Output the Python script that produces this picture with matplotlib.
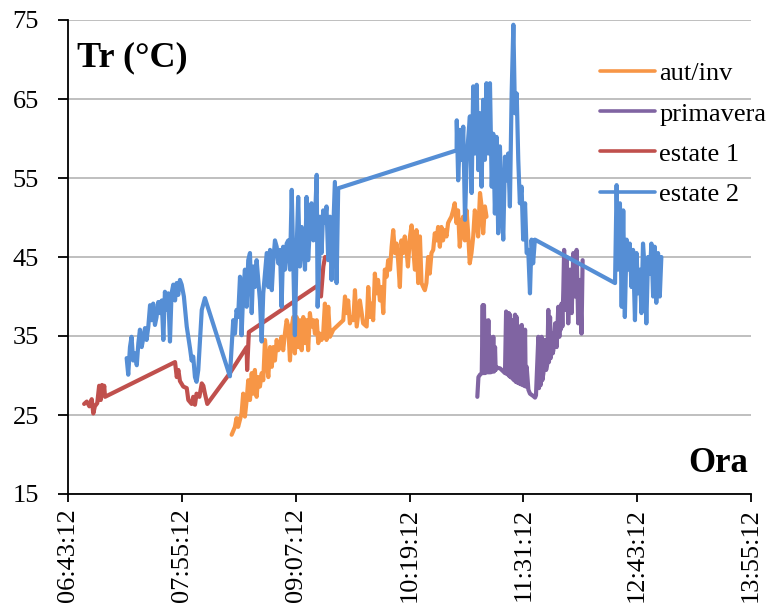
import matplotlib
matplotlib.use("Agg")
import matplotlib.pyplot as plt
from matplotlib.ticker import FixedLocator, FuncFormatter

plt.rcParams['font.family'] = ['Liberation Serif', 'DejaVu Serif']

# time in minutes since midnight, temperature Tr in °C
aut_t = [506.7, 508.8, 509.8, 510.8, 512.0, 513.0, 514.0, 515.1, 516.2, 517.2, 518.3, 519.4, 520.4, 521.4,
         522.5, 523.5, 524.6, 525.7, 526.7, 527.8, 528.8, 529.9, 531.0, 532.1, 533.1, 534.1, 535.2, 536.2,
         537.3, 538.3, 539.3, 540.4, 541.5, 542.5, 543.6, 544.7, 545.7, 546.7, 547.8, 548.8, 549.9, 551.0,
         552.0, 553.1, 554.1, 555.1, 556.2, 557.2, 558.4, 559.4, 560.5, 561.5, 562.5, 563.6, 564.6, 565.7,
         566.7, 567.8, 568.9, 571.0, 573.1, 575.2, 577.3, 578.4, 579.4, 580.4, 581.5, 582.5, 583.7, 584.7,
         585.8, 587.8, 589.9, 592.1, 593.1, 594.2, 595.2, 596.2, 597.3, 598.3, 599.3, 600.5, 601.6, 602.6,
         603.6, 604.7, 605.7, 606.9, 607.9, 608.9, 610.0, 611.0, 612.0, 613.1, 614.1, 615.2, 616.2, 617.3,
         618.2, 619.5, 620.5, 621.5, 622.6, 623.6, 624.7, 625.8, 626.8, 627.9, 628.9, 629.9, 631.0, 632.0,
         633.1, 634.2, 635.2, 636.3, 637.3, 638.4, 639.4, 640.4, 641.5, 642.6, 643.6, 644.6, 645.7, 646.8,
         647.8, 648.9, 649.9, 651.0, 652.1, 653.1, 654.2, 655.3, 656.3, 657.3, 658.4, 659.5, 660.5, 661.6,
         662.6, 663.8, 664.8, 665.8, 666.9, 667.9]
aut_v = [22.5, 23.5, 24.6, 23.5, 24.4, 25.2, 27.7, 24.8, 26.9, 29.4, 26.9, 30.3, 27.7, 30.7,
         27.3, 29.8, 28.6, 30.3, 29.4, 34.5, 31.9, 29.8, 33.6, 31.1, 33.6, 31.9, 34.5, 33.2,
         33.6, 34.9, 33.2, 35.3, 37.0, 36.2, 31.9, 36.2, 37.4, 32.8, 37.4, 33.6, 37.0, 33.2,
         37.4, 34.1, 37.0, 33.2, 37.9, 36.2, 37.0, 35.3, 37.0, 34.1, 35.3, 34.5, 35.3, 39.1,
         34.5, 38.7, 34.9, 35.8, 36.2, 36.6, 37.0, 40.0, 37.9, 39.5, 36.6, 37.4, 37.0, 40.8,
         36.2, 39.5, 36.6, 36.2, 41.2, 37.4, 39.1, 37.0, 42.9, 40.4, 42.1, 39.5, 41.2, 37.9,
         43.4, 42.5, 44.6, 43.4, 46.3, 48.4, 45.5, 46.7, 44.6, 41.2, 47.1, 45.5, 47.6, 45.9,
         43.8, 47.6, 49.0, 46.3, 43.4, 48.4, 41.7, 47.6, 41.7, 41.2, 40.8, 41.7, 45.0, 42.9,
         45.5, 45.9, 48.0, 47.1, 48.8, 46.3, 48.8, 47.1, 48.4, 47.6, 49.3, 49.7, 50.1, 50.9,
         51.8, 49.3, 50.9, 46.3, 49.3, 50.1, 47.1, 50.9, 48.0, 44.2, 45.5, 47.6, 50.9, 49.7,
         47.6, 53.1, 51.4, 48.0, 51.4, 50.1]

prim_t = [662.1, 662.8, 663.8, 664.9, 665.5, 665.9, 666.3, 666.8, 667.0, 667.6, 668.0, 668.5, 669.1, 669.5,
          670.1, 670.5, 671.2, 671.6, 672.2, 672.7, 673.3, 673.7, 674.4, 676.5, 678.6, 679.6, 680.3, 680.7,
          681.1, 681.5, 682.0, 682.4, 682.8, 683.2, 683.9, 684.3, 684.9, 685.3, 686.0, 686.4, 687.0, 687.4,
          688.1, 688.5, 689.1, 689.5, 690.2, 690.6, 691.2, 691.6, 692.3, 692.7, 693.3, 694.4, 695.4, 697.5,
          698.6, 699.2, 700.7, 701.1, 701.8, 702.2, 702.8, 703.2, 703.9, 704.9, 705.6, 706.4, 707.0, 707.4,
          708.1, 708.5, 709.1, 709.8, 710.2, 711.3, 711.9, 712.3, 713.3, 714.0, 714.4, 714.8, 715.4, 715.9,
          716.5, 717.0, 717.5, 718.6, 719.6, 720.7, 721.8, 722.8, 723.9, 724.9, 725.9, 727.0, 728.0, 728.7]
prim_v = [27.3, 29.8, 30.1, 30.3, 38.9, 30.3, 38.9, 30.3, 37.0, 30.4, 36.6, 30.4, 37.0, 30.4,
          34.9, 30.4, 33.9, 30.5, 34.9, 30.5, 33.6, 30.7, 31.0, 30.9, 30.5, 30.3, 38.1, 30.2,
          37.9, 30.1, 37.9, 29.9, 37.7, 29.8, 37.0, 29.6, 32.8, 29.4, 37.7, 29.2, 37.4, 29.1,
          32.4, 29.0, 36.2, 28.9, 36.4, 28.8, 34.5, 28.7, 35.8, 28.6, 31.1, 28.2, 27.7, 27.4,
          27.2, 27.5, 34.9, 28.4, 34.1, 28.8, 34.9, 29.4, 30.3, 34.5, 30.7, 31.5, 38.3, 31.7,
          37.4, 32.2, 35.3, 32.8, 33.2, 36.6, 33.9, 33.6, 38.7, 34.9, 38.7, 35.8, 39.1, 36.2,
          40.8, 45.9, 38.3, 45.0, 36.6, 43.4, 37.9, 45.5, 40.0, 45.9, 36.6, 42.1, 35.3, 44.6]

est1_t = [413.4, 415.1, 416.7, 418.2, 419.2, 420.2, 421.7, 422.9, 423.9, 424.7, 425.5, 426.1, 426.6,
          470.9, 472.0, 473.0, 474.0, 476.1, 478.3, 479.3, 481.4, 482.4, 483.5, 484.5, 486.3, 487.8,
          488.8, 489.8, 491.3, 505.6, 516.2, 516.5, 517.6, 560.5, 563.2, 564.7, 565.8]
est1_v = [26.4, 26.7, 26.1, 27.0, 25.2, 26.1, 26.5, 28.7, 26.9, 28.8, 27.7, 28.7, 27.3,
          31.7, 29.8, 30.7, 29.3, 28.6, 28.4, 26.9, 26.4, 27.3, 26.3, 27.7, 27.3, 29.0,
          28.7, 27.7, 26.4, 30.3, 33.6, 30.7, 35.5, 41.3, 40.0, 43.8, 45.0]

est2_t = [440.3, 441.3, 442.4, 443.4, 444.4, 445.6, 446.7, 447.7, 448.7, 449.8, 450.8, 451.9, 452.9, 454.0,
          455.1, 456.1, 457.1, 458.2, 459.2, 460.3, 461.4, 462.5, 463.5, 464.5, 465.6, 466.6, 467.7, 468.7,
          469.8, 470.9, 471.9, 472.9, 474.0, 475.1, 476.5, 478.3, 479.3, 480.4, 481.4, 482.4, 483.5, 484.5,
          485.6, 487.8, 489.8, 505.6,
          506.7, 507.7, 508.8, 509.8, 510.8, 512.0, 513.0, 514.0, 515.1, 516.2, 517.2, 518.3, 519.4, 520.4,
          521.4, 522.5, 523.5, 524.6, 525.7, 526.7, 528.9, 529.9, 531.0, 532.1, 533.1, 534.1, 535.2, 536.2,
          537.3, 538.3, 539.3, 540.4, 541.5, 542.5, 543.6, 544.7, 545.7, 546.7, 547.8, 548.8, 549.9, 551.0,
          552.0, 553.1, 554.1, 555.1, 556.2, 557.2, 558.4, 559.4, 560.5, 561.1, 562.1, 562.5, 563.6, 564.6,
          565.6, 566.7, 567.8, 568.9, 569.9, 571.0, 572.0, 573.1, 574.1,
          649.0, 649.1, 650.0, 651.2, 652.2, 653.2, 654.3, 655.4, 656.4, 657.4, 658.5, 659.5, 660.6, 661.7,
          662.7, 663.8, 664.8, 665.8, 666.9, 667.9, 669.0, 670.1, 671.2, 672.2, 673.2, 674.3, 675.3, 676.4,
          677.5, 678.5, 679.6, 680.6, 681.6, 682.7, 683.8, 684.9, 685.9, 687.0, 688.0, 689.0, 690.1, 691.1,
          692.3, 693.3, 694.3, 695.4, 696.4, 697.4, 698.5,
          749.2, 750.2, 751.2, 752.3, 753.4, 754.4, 755.4, 756.5, 757.5, 758.5, 759.6, 760.6, 761.8, 762.8,
          763.8, 764.9, 765.9, 766.9, 768.0, 769.0, 770.1, 771.2, 772.2, 773.3, 774.3, 775.3, 776.4, 777.5,
          778.5]
est2_v = [32.2, 30.1, 33.6, 34.9, 31.9, 32.8, 31.3, 34.1, 35.8, 33.6, 34.7, 36.0, 34.5, 36.2,
          38.9, 37.0, 39.1, 36.4, 37.4, 39.3, 37.9, 39.5, 34.5, 40.6, 38.3, 40.4, 34.3, 40.4,
          41.5, 39.5, 41.7, 40.2, 42.1, 41.5, 40.0, 36.2, 34.9, 33.4, 31.9, 32.4, 29.8, 29.2,
          30.7, 38.3, 39.8, 29.9,
          33.6, 37.0, 35.3, 38.3, 37.4, 42.5, 35.1, 40.4, 43.4, 38.7, 44.6, 45.5, 37.9, 43.8,
          41.2, 44.6, 42.1, 39.5, 34.3, 40.4, 45.5, 41.2, 45.9, 40.8, 44.6, 47.1, 46.3, 44.2,
          45.9, 38.7, 46.3, 43.4, 46.7, 47.1, 43.4, 53.5, 44.6, 35.1, 45.9, 52.6, 43.8, 48.8,
          46.7, 43.4, 52.6, 44.6, 48.8, 51.8, 47.1, 49.7, 55.4, 38.7, 44.6, 50.1, 45.5, 50.9,
          49.3, 51.4, 44.6, 50.1, 42.1, 48.8, 54.5, 41.7, 53.7,
          58.5, 62.3, 54.7, 61.1, 57.3, 61.5, 49.7, 57.3, 60.2, 62.8, 53.1, 66.6, 58.1, 66.8,
          56.0, 63.2, 53.9, 64.9, 57.3, 67.0, 58.1, 67.0, 53.9, 60.6, 50.5, 60.2, 48.0, 59.0,
          51.4, 47.2, 57.7, 54.7, 58.1, 51.4, 65.7, 74.4, 63.2, 65.7, 57.3, 51.8, 53.9, 47.2,
          51.8, 45.5, 45.9, 40.4, 47.2, 44.2, 47.2,
          41.7, 54.1, 43.4, 51.8, 38.7, 50.9, 37.4, 47.2, 43.4, 46.7, 41.2, 45.9, 37.0, 45.5,
          40.4, 43.4, 37.9, 46.7, 43.4, 36.6, 45.0, 42.9, 46.7, 40.0, 46.3, 39.2, 45.5, 40.0,
          45.0]

series_names = ['aut/inv', 'primavera', 'estate 1', 'estate 2']
colors = ['#F79646', '#8064A2', '#C0504D', '#558ED5']

x_start = 403.2  # 06:43:12
x_step = 72.0
y_ticks = [15, 25, 35, 45, 55, 65, 75]

fig = plt.figure(figsize=(7.74, 6.05), dpi=100)
ax = fig.add_axes([68 / 774, 1 - 494 / 605, (751 - 68) / 774, (494 - 20) / 605])

for (t, v), name, c in zip([(aut_t, aut_v), (prim_t, prim_v), (est1_t, est1_v), (est2_t, est2_v)],
                           series_names, colors):
    ax.plot(t, v, color=c, lw=3.0, label=name, solid_joinstyle='round', solid_capstyle='round', zorder=3)

ax.set_xlim(x_start, x_start + 6 * x_step)
ax.set_ylim(15, 75)
ax.xaxis.set_major_locator(FixedLocator([x_start + k * x_step for k in range(7)]))
ax.yaxis.set_major_locator(FixedLocator(y_ticks))


def fmt(x, pos):
    s = int(round(x * 60))
    return "%02d:%02d:%02d" % (s // 3600, (s // 60) % 60, s % 60)


ax.xaxis.set_major_formatter(FuncFormatter(fmt))
ax.tick_params(axis='x', labelrotation=90, labelsize=19, length=6, width=1.3, pad=4, direction='out')
ax.tick_params(axis='y', labelsize=19, length=7, width=1.3, pad=14, direction='out')
ax.grid(axis='y', color='#BFBFBF', lw=1.4, zorder=0)
for s in ['top', 'right']:
    ax.spines[s].set_visible(False)
for s in ['left', 'bottom']:
    ax.spines[s].set_linewidth(1.3)
    ax.spines[s].set_zorder(4)

fig.text(77 / 774, 1 - 66 / 605, 'Tr (°C)', fontsize=26, fontweight='bold', ha='left', va='baseline')
fig.text(748 / 774, 1 - 472 / 605, 'Ora', fontsize=25, fontweight='bold', ha='right', va='baseline')

leg = ax.legend(loc='upper left', bbox_to_anchor=(600 / 774, 1 - 62 / 605),
                bbox_transform=fig.transFigure, frameon=False, fontsize=19,
                handlelength=2.1, handletextpad=0.15, labelspacing=0.63, borderpad=0, borderaxespad=0)
for line in leg.get_lines():
    line.set_linewidth(2.6)

fig.savefig('out.png', dpi=100)
